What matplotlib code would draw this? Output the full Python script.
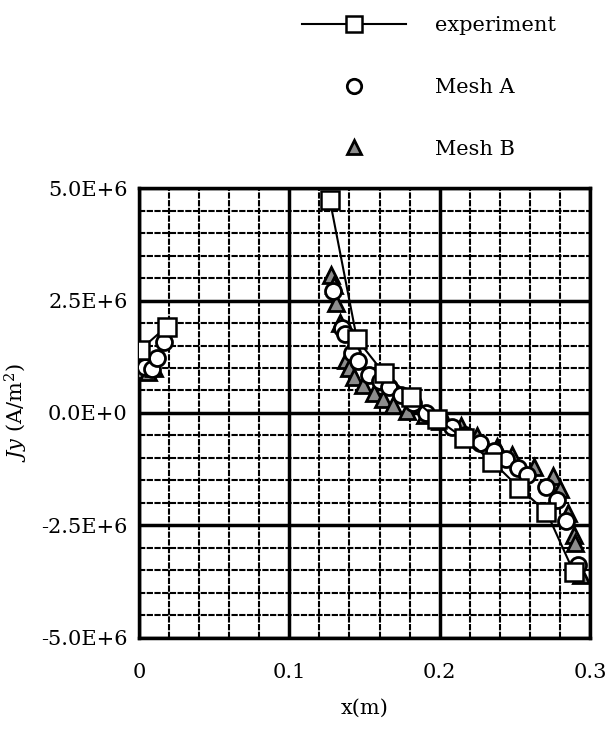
import numpy as np
import matplotlib
matplotlib.use('Agg')
import matplotlib.pyplot as plt
from matplotlib.ticker import MultipleLocator, FixedFormatter, FixedLocator

plt.rcParams['font.family'] = 'DejaVu Serif'
plt.rcParams['mathtext.fontset'] = 'dejavuserif'

# measured data (x in m, Jy in 1E6 A/m2); nan splits the two experiment groups
exp_x = [0.0007, 0.0185, np.nan, 0.127, 0.145, 0.163, 0.181, 0.198, 0.216, 0.235, 0.253, 0.271, 0.289]
exp_y = [1.40, 1.92, np.nan, 4.73, 1.64, 0.88, 0.36, -0.13, -0.56, -1.08, -1.67, -2.20, -3.53]

meshA_x = [0.004, 0.009, 0.012, 0.017,
           0.129, 0.135, 0.137, 0.142, 0.146, 0.153, 0.160, 0.166, 0.174, 0.182,
           0.191, 0.200, 0.208, 0.217, 0.227, 0.236, 0.244, 0.252, 0.258, 0.271,
           0.278, 0.284, 0.292]
meshA_y = [1.02, 0.98, 1.22, 1.58,
           2.72, 1.88, 1.75, 1.33, 1.15, 0.84, 0.70, 0.58, 0.40, 0.22,
           0.00, -0.15, -0.32, -0.48, -0.67, -0.85, -1.02, -1.23, -1.38, -1.64,
           -1.93, -2.41, -3.38]

meshB_x = [0.002, 0.006, 0.010,
           0.128, 0.130, 0.131, 0.134, 0.138, 0.140, 0.143, 0.149, 0.156, 0.162,
           0.169, 0.178, 0.190, 0.200, 0.214, 0.225, 0.238, 0.248, 0.263, 0.275,
           0.280, 0.285, 0.289, 0.290, 0.294]
meshB_y = [0.95, 0.90, 1.00,
           3.07, 2.85, 2.44, 2.00, 1.18, 1.00, 0.80, 0.62, 0.44, 0.32,
           0.18, 0.05, -0.05, -0.18, -0.30, -0.52, -0.75, -0.93, -1.20, -1.41,
           -1.70, -2.23, -2.71, -2.90, -3.60]

ytick_vals = [-5.0, -2.5, 0.0, 2.5, 5.0]
ytick_labels = ['-5.0E+6', '-2.5E+6', '0.0E+0', '2.5E+6', '5.0E+6']
xtick_vals = [0, 0.1, 0.2, 0.3]
xtick_labels = ['0', '0.1', '0.2', '0.3']

fig = plt.figure(figsize=(6.09, 7.29), dpi=100)
ax = fig.add_axes([0.228, 0.125, 0.741, 0.617])

ax.plot(meshB_x, meshB_y, linestyle='none', marker='^', markersize=11,
        markerfacecolor='0.55', markeredgecolor='black', markeredgewidth=2,
        label='Mesh B', zorder=3)
ax.plot(meshA_x, meshA_y, linestyle='none', marker='o', markersize=11.5,
        markerfacecolor='white', markeredgecolor='black', markeredgewidth=2,
        label='Mesh A', zorder=4)
ax.plot(exp_x, exp_y, color='black', linewidth=1.5, marker='s', markersize=12.5,
        markerfacecolor='white', markeredgecolor='black', markeredgewidth=1.8,
        label='experiment', zorder=5)

ax.set_xlim(0, 0.3)
ax.set_ylim(-5, 5)
ax.xaxis.set_major_locator(FixedLocator(xtick_vals))
ax.xaxis.set_major_formatter(FixedFormatter(xtick_labels))
ax.yaxis.set_major_locator(FixedLocator(ytick_vals))
ax.yaxis.set_major_formatter(FixedFormatter(ytick_labels))
ax.xaxis.set_minor_locator(MultipleLocator(0.02))
ax.yaxis.set_minor_locator(MultipleLocator(0.5))

ax.grid(which='minor', color='black', linewidth=1.5, linestyle=(0, (3, 0.7)))
ax.grid(which='major', color='black', linewidth=2.5)
ax.set_axisbelow(True)
ax.tick_params(which='both', length=0, labelsize=15)
ax.tick_params(axis='x', pad=18)
ax.tick_params(axis='y', pad=8)
for s in ax.spines.values():
    s.set_linewidth(2.5)

ax.set_xlabel('x(m)', fontsize=15, labelpad=12)
ax.set_ylabel('$Jy$ (A/m$^2$)', fontsize=15, labelpad=8)

h, l = ax.get_legend_handles_labels()
fig.legend(h[::-1], l[::-1], loc='upper left', bbox_to_anchor=(0.475, 0.995),
           frameon=False, fontsize=15, handlelength=5.0, handletextpad=1.4,
           labelspacing=2.05, borderaxespad=0.2, markerscale=0.9)

fig.savefig('out.png', dpi=100)
